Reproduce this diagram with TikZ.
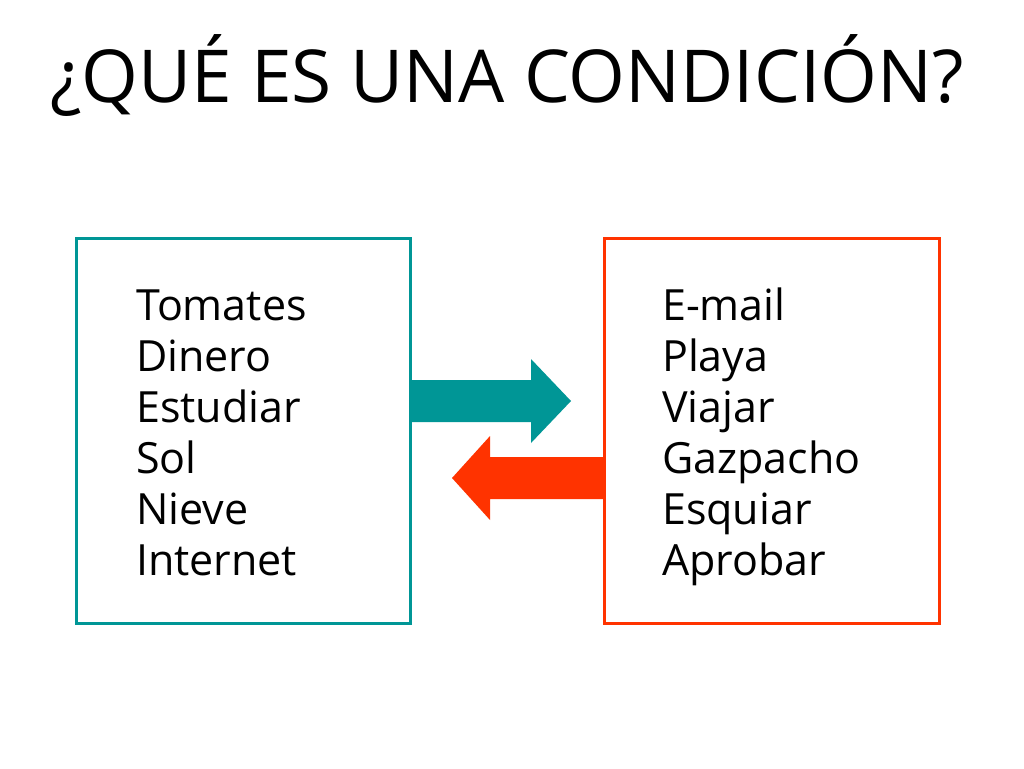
\documentclass[tikz,border=0pt]{standalone}
\usepackage{fontspec}
\setmainfont{Open Sans}
\definecolor{verdeazul}{RGB}{0,150,150}
\definecolor{rojizo}{RGB}{255,51,0}
\begin{document}
\begin{tikzpicture}[x=1pt,y=-1pt,
    caja/.style={line width=3pt},
    palabra/.style={anchor=base west, inner sep=0pt, font=\fontsize{43}{51}\selectfont}]

  % marco de la página
  \useasboundingbox (0,0) rectangle (1024,768);

  % título
  \node[anchor=base, inner sep=0pt, font=\fontsize{73}{86}\selectfont] (titulo) at (507,102) {¿QUÉ ES UNA CONDICIÓN?};

  % cajas
  \draw[caja, verdeazul] (76,238) rectangle (410,623);
  \draw[caja, rojizo] (604,238) rectangle (939,623);

  % flecha hacia la derecha
  \fill[verdeazul] (410,380) -- (531,380) -- (531,359) -- (571,401)
                   -- (531,443) -- (531,422) -- (410,422) -- cycle;
  % flecha hacia la izquierda
  \fill[rojizo] (604,457) -- (490,457) -- (490,436) -- (452,478)
                -- (490,520) -- (490,499) -- (604,499) -- cycle;

  % palabras de la izquierda
  \foreach \w [count=\i] in {Tomates,Dinero,Estudiar,Sol,Nieve,Internet}
    \node[palabra] (izq\i) at (136,320+51*\i-51) {\w};

  % palabras de la derecha
  \foreach \w [count=\i] in {E-mail,Playa,Viajar,Gazpacho,Esquiar,Aprobar}
    \node[palabra] (der\i) at (662,320+51*\i-51) {\w};

\end{tikzpicture}
\end{document}
